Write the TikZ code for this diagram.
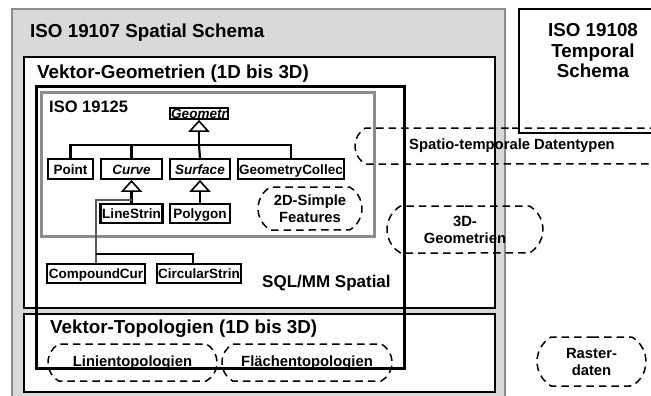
\documentclass[tikz,border=0pt]{standalone}
\usepackage{fontspec}
\setmainfont{Liberation Sans}
\usetikzlibrary{shapes.misc}
\begin{document}
\begin{tikzpicture}[x=1pt,y=-1pt,
  every node/.style={inner sep=0pt, font=\bfseries},
  outerbox/.style={draw=black!45, fill=black!15, line width=1.8pt},
  framebox/.style={draw=black, fill=white, line width=2.2pt},
  heavybox/.style={draw=black, line width=3pt},
  grayframe/.style={draw=black!45, line width=3pt},
  umlbox/.style={draw=black, line width=2.2pt, fill=white, minimum height=19pt,
    text height=10pt, text depth=0pt, font=\bfseries\fontsize{13.5}{15}\selectfont},
  abstract/.style={font=\bfseries\itshape\fontsize{13.5}{15}\selectfont},
  conn/.style={draw=black, line width=2.2pt},
  thinconn/.style={draw=black!65, line width=1.1pt},
  tri/.style={draw=black, fill=white, line width=1.6pt, line join=miter},
  dashblob/.style={draw=black, line width=1.5pt, dash pattern=on 7.5pt off 5pt,
    rounded rectangle, rounded rectangle arc length=120, align=center,
    font=\bfseries\fontsize{14.8}{17}\selectfont},
  bigtitle/.style={anchor=base west, font=\bfseries\fontsize{18.8}{21}\selectfont},
]
\useasboundingbox (0,0) rectangle (651,396);
\clip (0,0) rectangle (651,396);

% containers
\draw[outerbox] (12,9) rectangle (505,410);
\draw[framebox] (519,9) rectangle (670,133);
\draw[framebox] (24,57) rectangle (495,308);
\draw[framebox] (24,314) rectangle (495,392);
\draw[grayframe] (41,93) rectangle (374,236);
\draw[heavybox] (36,87) rectangle (404,368);

% titles
\node[bigtitle] (t19107) at (30,38) {ISO 19107 Spatial Schema};
\node[align=center, font=\bfseries\fontsize{18.8}{20.5}\selectfont] (t19108) at (593,51) {ISO 19108\\Temporal\\Schema};
\node[bigtitle] (tvg) at (37,78) {Vektor-Geometrien (1D bis 3D)};
\node[bigtitle] (tvt) at (50,333) {Vektor-Topologien (1D bis 3D)};
\node[anchor=base west, font=\bfseries\fontsize{16.5}{18}\selectfont] (t19125) at (49,113) {ISO 19125};
\node[anchor=base west, font=\bfseries\fontsize{17}{18}\selectfont] (tsql) at (262,287) {SQL/MM Spatial};

% UML classes
\node[umlbox, abstract, minimum width=58pt, minimum height=11pt, text height=9pt] (geom) at (199,113.5) {Geometr};
\node[umlbox, minimum width=45pt, minimum height=20pt] (point) at (70.5,169) {Point};
\node[umlbox, abstract, minimum width=61pt, minimum height=20pt] (curve) at (131.5,169) {Curve};
\node[umlbox, abstract, minimum width=60pt, minimum height=20pt] (surface) at (200,169) {Surface};
\node[umlbox, minimum width=106pt, minimum height=20pt] (gcoll) at (291,169) {GeometryCollec};
\node[umlbox, minimum width=62pt] (lstr) at (131.5,213.5) {LineStrin};
\node[umlbox, minimum width=60pt] (poly) at (200,213.5) {Polygon};
\node[umlbox, minimum width=98pt] (ccur) at (96,273.5) {CompoundCur};
\node[umlbox, minimum width=84pt] (cstr) at (199,273.5) {CircularStrin};

% connectors (generalisation: open triangles at the parent)
\coordinate (bar) at (199,145);
\draw[conn] (point.north) |- (bar) -- ([yshift=-10pt]geom.south);
\draw[conn] (curve.north) |- (bar);
\draw[conn] (gcoll.north) |- (bar);
\draw[conn] (surface.north) -- (bar);
\draw[conn] (lstr.north) -- ([yshift=-10pt]curve.south);
\draw[conn] (poly.north) -- ([yshift=-10pt]surface.south);
\draw[tri] ([yshift=-1pt]geom.south) -- ++(-9,10) -- ++(18,0) -- cycle;
\draw[tri] ([yshift=-1pt]curve.south) -- ++(-9,10) -- ++(18,0) -- cycle;
\draw[tri] ([yshift=-1pt]surface.south) -- ++(-9,10) -- ++(18,0) -- cycle;
\coordinate (j1) at (131.5,200);
\draw[thinconn] (j1) -| (ccur.north);
\coordinate (j2) at (96,254);
\coordinate (j3) at (193,254);
\draw[conn] (j2) -- (j3) -- (j3 |- cstr.north);

% dashed groupings
\node[dashblob, minimum width=104pt, minimum height=43pt] (simple) at (310,208.5) {2D-Simple\\Features};
\node[dashblob, minimum width=314pt, minimum height=36pt] (spatio) at (512,146) {Spatio-temporale Datentypen};
\node[dashblob, minimum width=156pt, minimum height=47pt] (geo3d) at (465,229.5) {3D-\\Geometrien};
\node[dashblob, minimum width=109pt, minimum height=49pt] (raster) at (591.5,361.5) {Raster-\\daten};
\node[dashblob, minimum width=169pt, minimum height=37pt] (linien) at (132.5,362.5) {Linientopologien};
\node[dashblob, minimum width=170pt, minimum height=37pt] (flaechen) at (307,362.5) {Flächentopologien};
\end{tikzpicture}
\end{document}
